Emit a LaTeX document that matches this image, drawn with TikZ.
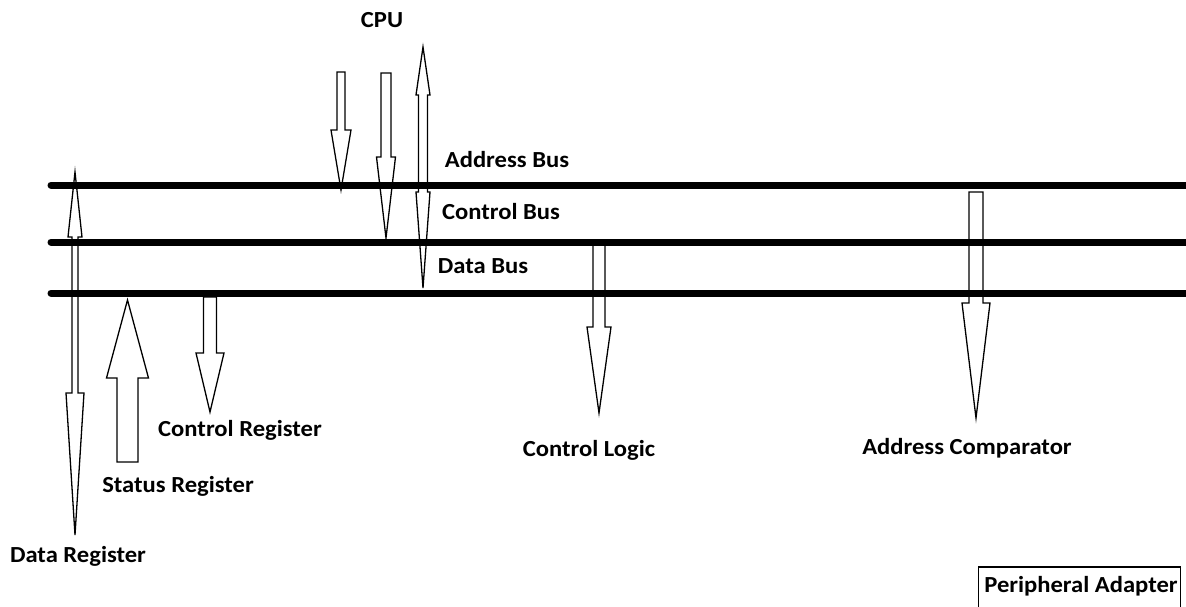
\documentclass[tikz,border=0pt]{standalone}
\usepackage{fontspec}
\setmainfont{Carlito}
\newcommand\blkdown[6]{% cx, top, shaft hw, head base, head hw, tip
  \draw[blk] ({#1-#3},#2) -- ({#1+#3},#2) -- ({#1+#3},#4) -- ({#1+#5},#4) -- (#1,#6) -- ({#1-#5},#4) -- ({#1-#3},#4) -- cycle;}
\newcommand\blkup[6]{% cx, bottom, shaft hw, head base, head hw, tip
  \draw[blk] ({#1-#3},#2) -- ({#1+#3},#2) -- ({#1+#3},#4) -- ({#1+#5},#4) -- (#1,#6) -- ({#1-#5},#4) -- ({#1-#3},#4) -- cycle;}
\newcommand\blkdouble[8]{% cx, toptip, upbase, uphw, shafthw, downbase, downhw, bottomtip
  \draw[blk] (#1,#2) -- ({#1+#4},#3) -- ({#1+#5},#3) -- ({#1+#5},#6) -- ({#1+#7},#6) -- (#1,#8) -- ({#1-#7},#6) -- ({#1-#5},#6) -- ({#1-#5},#3) -- ({#1-#4},#3) -- cycle;}
\newcommand\wtxt[1]{\scalebox{1.07}[1]{#1}}
\tikzset{
  blk/.style={draw=black, line width=1.3pt, fill=white, line join=miter},
  bus/.style={line width=7pt, line cap=round},
  lbl/.style={font=\fontsize{23}{27}\selectfont\bfseries, text=black, inner sep=0pt},
}
\begin{document}
\begin{tikzpicture}[x=1pt,y=-1pt]
\useasboundingbox (0,0) rectangle (1186,606);
% arrows
\blkdown{341}{72}{4}{130}{10}{190}
\blkdown{386}{73}{5}{157}{9.5}{238}
\blkdouble{423}{47}{95}{7}{4.5}{192}{7}{288}
\blkdouble{75}{172}{237}{7}{3}{393}{9}{535}
\blkup{127.5}{462}{10.5}{378}{21}{300}
\blkdown{210}{297}{6.5}{353}{14}{412}
\blkdown{599}{240}{6}{327}{12}{413}
\blkdown{976}{192}{7}{303}{14}{418}
% buses
\coordinate (ab0) at (51,185); \coordinate (ab1) at (1190,185);
\coordinate (cb0) at (51,242); \coordinate (cb1) at (1190,242);
\coordinate (db0) at (51,293); \coordinate (db1) at (1190,293);
\draw[bus] (ab0) -- (ab1);
\draw[bus] (cb0) -- (cb1);
\draw[bus] (db0) -- (db1);
% labels
\node[lbl] (cpu) at (382,20) {\wtxt{CPU}};
\node[lbl] (addrbus) at (507,160) {\wtxt{Address Bus}};
\node[lbl] (ctrlbus) at (501,212) {\wtxt{Control Bus}};
\node[lbl] (databus) at (483,266) {\wtxt{Data Bus}};
\node[lbl] (ctrlreg) at (240,430) {\wtxt{Control Register}};
\node[lbl] (statreg) at (178,486) {\wtxt{Status Register}};
\node[lbl] (datareg) at (78,556) {\wtxt{Data Register}};
\node[lbl] (ctrllogic) at (589,450) {\wtxt{Control Logic}};
\node[lbl] (addrcomp) at (967,448) {\wtxt{Address Comparator}};
\coordinate (pa0) at (978.5,567); \coordinate (pa1) at (1180.5,612);
\draw[line width=1.2pt] (pa0) rectangle (pa1);
\node[lbl] (pa) at (1081,586) {\wtxt{Peripheral Adapter}};
\end{tikzpicture}
\end{document}
